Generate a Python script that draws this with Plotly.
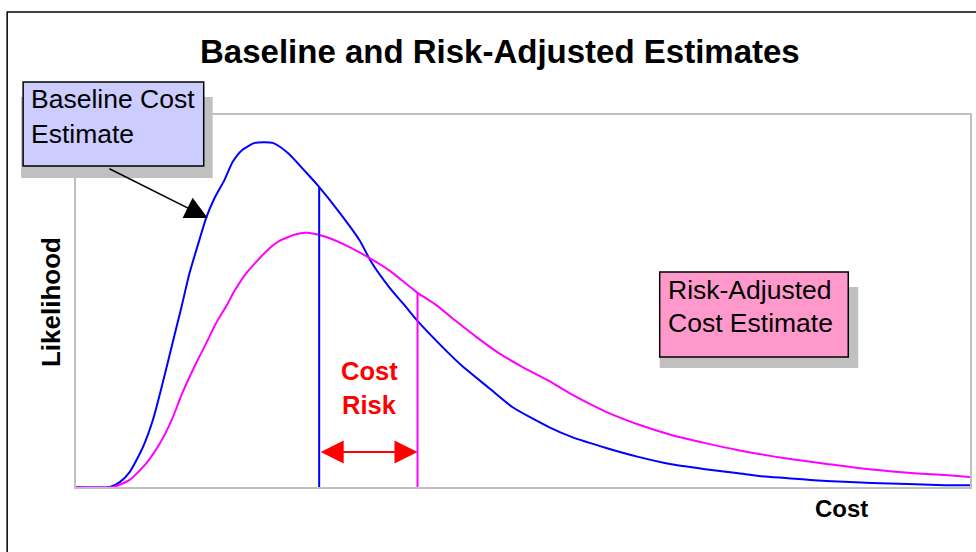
import numpy as np
import plotly.graph_objects as go

# ---- data ----
baseline_cost = [0, 3.8, 4.9, 6.0, 7.5, 8.6, 9.7, 10.8, 11.8, 12.7, 13.8, 14.6, 15.5, 16.6, 17.5,
                 18.6, 20.0, 22.0, 23.7, 25.8, 27.0, 29.5, 31.7, 33.1, 35.0, 36.9, 38.4, 41.0, 43.2,
                 46.2, 48.8, 52.9, 55.5, 59.3, 62.9, 66.6, 70.4, 74.1, 77.1, 80.5, 83.9, 89.0, 97.2, 100]
baseline_likelihood = [0, 0, 1.3, 4.0, 10.8, 18.0, 28.0, 38.7, 48.4, 57.5, 66.4, 72.6, 77.7, 82.5, 87.3,
                       90.6, 92.5, 92.5, 89.8, 84.4, 81.2, 73.7, 66.4, 60.2, 53.8, 48.4, 44.1, 37.6, 32.5,
                       26.6, 21.5, 16.1, 13.4, 10.5, 8.1, 6.1, 4.8, 3.7, 2.8, 2.2, 1.6, 1.1, 0.5, 0.5]

risk_cost = [0, 4.1, 6.0, 7.9, 9.4, 10.7, 11.9, 13.5, 14.6, 15.7, 16.9, 17.7, 19.1, 21.3, 22.8, 24.7,
             26.1, 28.0, 30.6, 32.8, 35.0, 38.1, 40.3, 42.5, 44.8, 47.3, 49.9, 52.9, 55.5, 59.3, 62.9,
             66.6, 70.4, 74.1, 77.8, 80.5, 83.4, 87.5, 92.7, 97.2, 100]
risk_likelihood = [0, 0, 1.9, 6.5, 11.8, 18.0, 25.3, 33.6, 38.8, 44.2, 49.0, 52.6, 57.6, 63.4, 66.2, 68.0,
                   68.3, 67.2, 64.5, 61.6, 58.3, 52.4, 48.9, 44.6, 40.3, 36.0, 32.3, 28.5, 24.8, 20.2, 16.8,
                   14.0, 11.8, 9.9, 8.3, 7.3, 6.4, 5.1, 3.9, 3.2, 2.7]

baseline_mean = 27.2
risk_mean = 38.2

title_text = "Baseline and Risk-Adjusted Estimates"
x_title = "Cost"
y_title = "Likelihood"
baseline_label = ["Baseline Cost", "Estimate"]
risk_label = ["Risk-Adjusted", "Cost Estimate"]
cost_risk_label = ["Cost", "Risk"]

# ---- layout geometry (pixels of a 976x552 page) ----
W, H = 976, 552
L, R, T, B = 76, 972, 115, 487


def px(x):
    return (x - L) / (R - L)


def py(y):
    return (B - y) / (B - T)


FONT = "Arial, 'Liberation Sans', sans-serif"
BLUE = "#0000FF"
MAGENTA = "#FF00FF"

fig = go.Figure()
fig.add_trace(go.Scatter(x=baseline_cost, y=baseline_likelihood, mode="lines",
                         line=dict(color=BLUE, width=2, shape="spline", smoothing=0.6),
                         hoverinfo="skip", showlegend=False))
fig.add_trace(go.Scatter(x=risk_cost, y=risk_likelihood, mode="lines",
                         line=dict(color=MAGENTA, width=2, shape="spline", smoothing=0.6),
                         hoverinfo="skip", showlegend=False))

# vertical lines at the means, up to each curve
b_h = float(np.interp(baseline_mean, baseline_cost, baseline_likelihood))
r_h = float(np.interp(risk_mean, risk_cost, risk_likelihood))
fig.add_trace(go.Scatter(x=[baseline_mean, baseline_mean], y=[0, b_h], mode="lines",
                         line=dict(color=BLUE, width=2), hoverinfo="skip", showlegend=False))
fig.add_trace(go.Scatter(x=[risk_mean, risk_mean], y=[0, r_h], mode="lines",
                         line=dict(color=MAGENTA, width=2), hoverinfo="skip", showlegend=False))

shapes = []
# outer frame
shapes.append(dict(type="rect", xref="paper", yref="paper",
                   x0=px(7), x1=px(990), y0=py(12), y1=py(570),
                   line=dict(color="black", width=1.5), fillcolor="rgba(0,0,0,0)", layer="above"))
# baseline label box + shadow
shapes.append(dict(type="rect", xref="paper", yref="paper",
                   x0=px(21), x1=px(213), y0=py(97), y1=py(178),
                   line=dict(width=0), fillcolor="#C0C0C0", layer="above"))
shapes.append(dict(type="rect", xref="paper", yref="paper",
                   x0=px(23), x1=px(204), y0=py(82), y1=py(166),
                   line=dict(color="black", width=1.5), fillcolor="#CCCCFF", layer="above"))
# risk label box + shadow
shapes.append(dict(type="rect", xref="paper", yref="paper",
                   x0=px(661), x1=px(860), y0=py(287), y1=py(368),
                   line=dict(width=0), fillcolor="#C0C0C0", layer="above"))
shapes.append(dict(type="rect", xref="paper", yref="paper",
                   x0=px(661), x1=px(850), y0=py(272), y1=py(357),
                   line=dict(color="black", width=1.5), fillcolor="#FF99CC", layer="above"))

ann = []
ann.append(dict(text="<b>" + title_text + "</b>", xref="paper", yref="paper",
                x=px(501), y=py(52), xanchor="center", yanchor="middle", showarrow=False,
                font=dict(family=FONT, size=33, color="black")))
ann.append(dict(text="<b>" + y_title + "</b>", xref="paper", yref="paper", textangle=-90,
                x=px(51), y=py(302), xanchor="center", yanchor="middle", showarrow=False,
                font=dict(family=FONT, size=26, color="black")))
ann.append(dict(text="<b>" + x_title + "</b>", xref="paper", yref="paper",
                x=px(843), y=py(508), xanchor="center", yanchor="middle", showarrow=False,
                font=dict(family=FONT, size=24, color="black")))
for txt, yy in zip(baseline_label, [99, 134]):
    ann.append(dict(text=txt, xref="paper", yref="paper", x=px(29), y=py(yy),
                    xanchor="left", yanchor="middle", showarrow=False,
                    font=dict(family=FONT, size=26.5, color="black")))
for txt, yy in zip(risk_label, [290, 323]):
    ann.append(dict(text=txt, xref="paper", yref="paper", x=px(667), y=py(yy),
                    xanchor="left", yanchor="middle", showarrow=False,
                    font=dict(family=FONT, size=26.5, color="black")))
for txt, yy in zip(cost_risk_label, [371, 405]):
    ann.append(dict(text="<b>" + txt + "</b>", xref="paper", yref="paper", x=px(370), y=py(yy),
                    xanchor="center", yanchor="middle", showarrow=False,
                    font=dict(family=FONT, size=25.5, color="#FF0000")))
# black pointer arrow to baseline curve
ann.append(dict(text="", x=(208 - L) / 8.96, y=(B - 218) / 3.72, xref="x", yref="y",
                ax=(108 - L) / 8.96, ay=(B - 168) / 3.72, axref="x", ayref="y",
                showarrow=True, arrowhead=2, arrowsize=3.0, arrowwidth=1.5, arrowcolor="black",
                standoff=0, startstandoff=0))
# red double arrow between the means
arrow_y = (B - 452) / 3.72
ann.append(dict(text="", x=risk_mean, y=arrow_y, xref="x", yref="y",
                ax=baseline_mean, ay=arrow_y, axref="x", ayref="y",
                showarrow=True, arrowhead=2, startarrowhead=2, arrowside="end+start",
                arrowsize=2.3, startarrowsize=2.3, arrowwidth=2, arrowcolor="#FF0000",
                standoff=0, startstandoff=0))

fig.update_layout(
    width=W, height=H,
    margin=dict(l=L, r=W - R, t=T, b=H - B, pad=0),
    paper_bgcolor="white", plot_bgcolor="white",
    shapes=shapes, annotations=ann,
    xaxis=dict(range=[0, 100], showgrid=False, zeroline=False, showticklabels=False, ticks="",
               showline=True, linecolor="#C0C0C0", linewidth=2, mirror=True, fixedrange=True),
    yaxis=dict(range=[0, 100], showgrid=False, zeroline=False, showticklabels=False, ticks="",
               showline=True, linecolor="#C0C0C0", linewidth=2, mirror=True, fixedrange=True),
    showlegend=False,
)

fig.write_html("out.html", config={"displayModeBar": False},
               post_script="document.body.style.margin='0';document.body.style.padding='0';"
                           "document.body.style.overflow='hidden';")
